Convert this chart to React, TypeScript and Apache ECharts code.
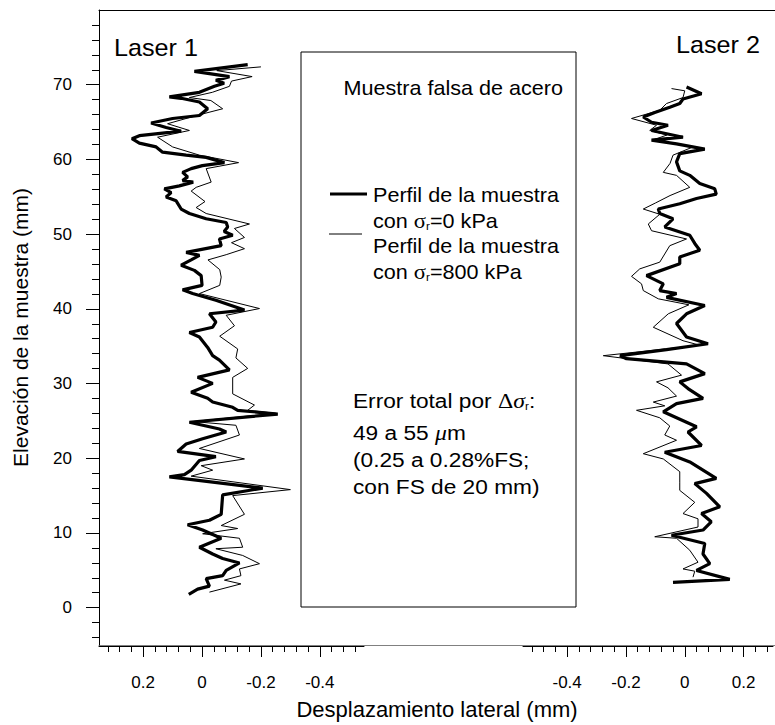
import React, { useEffect, useRef } from "react";
import * as echarts from "echarts";

// Elevation axis (mm)
const yTicks = [0, 10, 20, 30, 40, 50, 60, 70];
const yMinorTicks = [-4, -2, 0, 2, 4, 6, 8, 10, 12, 14, 16, 18, 20, 22, 24, 26, 28, 30, 32, 34, 36, 38, 40, 42, 44, 46, 48, 50, 52, 54, 56, 58, 60, 62, 64, 66, 68, 70, 72, 74, 76, 78];
// Lateral displacement axes (mm)
const xTicksL1 = [0.2, 0, -0.2, -0.4];
const xTicksL2 = [-0.4, -0.2, 0, 0.2];
const xMinorL1 = [0.32, 0.28, 0.24, 0.2, 0.16, 0.12, 0.08, 0.04, 0, -0.04, -0.08, -0.12, -0.16, -0.2, -0.24, -0.28, -0.32, -0.36, -0.4, -0.44, -0.48, -0.52];
const xMinorL2 = [-0.52, -0.48, -0.44, -0.4, -0.36, -0.32, -0.28, -0.24, -0.2, -0.16, -0.12, -0.08, -0.04, 0, 0.04, 0.08, 0.12, 0.16, 0.2, 0.24, 0.28];

// [displacement, elevation]
const laser1Sigma0 = [[-0.155,72.7],[0.026,71.8],[-0.093,71.1],[-0.047,70.6],[-0.075,70.2],[-0.042,69.8],[0.009,69.0],[0.111,68.4],[0.071,68.2],[0.009,67.7],[-0.019,66.8],[0.009,65.9],[0.1,65.5],[0.173,64.9],[0.122,64.3],[0.071,63.8],[0.213,63.2],[0.238,62.8],[0.213,62.2],[0.156,61.7],[0.134,61.0],[0.054,60.6],[-0.014,60.3],[-0.076,59.6],[-0.001,59.2],[0.037,58.8],[0.066,58.3],[0.049,57.7],[0.066,57.2],[0.03,57.0],[0.077,56.5],[0.128,56.1],[0.105,55.6],[0.122,55.0],[0.088,54.5],[0.071,53.4],[0.043,52.8],[-0.014,52.1],[-0.082,51.6],[-0.087,51.0],[-0.075,50.4],[-0.104,49.9],[-0.059,49.4],[-0.065,48.5],[0.054,47.6],[0.009,47.2],[0.037,46.6],[0.071,45.9],[0.026,45.2],[0.003,44.5],[0.0,43.2],[0.066,42.6],[0.032,42.1],[-0.047,41.2],[-0.144,39.9],[-0.025,39.4],[-0.047,38.3],[-0.036,37.6],[0.043,36.9],[0.009,36.3],[-0.019,34.9],[-0.036,33.8],[-0.059,33.2],[-0.093,31.9],[0.015,30.9],[-0.036,30.1],[0.037,28.9],[-0.019,28.1],[-0.036,27.6],[-0.104,26.9],[-0.121,26.5],[-0.257,26.0],[0.043,24.9],[-0.059,24.0],[-0.082,23.6],[-0.002,22.7],[0.054,22.0],[0.083,21.0],[-0.047,20.3],[0.009,19.8],[0.037,18.5],[0.06,17.9],[0.111,17.6],[-0.206,16.1],[-0.07,15.2],[-0.065,12.6],[-0.025,11.8],[0.049,11.2],[-0.002,10.5],[-0.065,9.4],[0.009,8.2],[-0.036,7.3],[-0.07,6.7],[-0.127,6.1],[-0.082,5.1],[-0.07,4.4],[-0.014,4.0],[-0.025,3.0],[0.015,2.6],[0.045,1.9]];
const laser1Sigma800 = [[-0.2,72.4],[-0.05,71.9],[-0.17,71.1],[-0.1,70.5],[-0.093,69.8],[-0.035,69.0],[0.043,68.3],[-0.03,67.9],[-0.07,66.8],[0.009,66.0],[0.117,64.8],[0.043,63.9],[0.151,63.0],[0.1,61.7],[0.009,60.6],[-0.124,59.6],[-0.014,58.8],[-0.031,57.0],[0.02,56.3],[0.037,55.8],[-0.01,54.4],[0.02,53.6],[-0.014,52.8],[-0.161,51.4],[-0.11,50.8],[-0.144,49.6],[-0.1,48.9],[-0.144,48.1],[-0.082,47.3],[-0.02,46.6],[-0.06,45.3],[-0.065,44.3],[-0.06,43.2],[0.009,42.1],[-0.195,40.1],[-0.082,39.2],[-0.11,37.8],[-0.06,36.4],[-0.121,34.7],[-0.115,33.5],[-0.155,32.1],[-0.104,30.9],[-0.104,28.7],[-0.178,27.2],[-0.155,26.5],[-0.25,26.1],[0.03,25.0],[-0.115,24.5],[-0.127,23.2],[0.009,21.4],[-0.144,20.0],[0.003,19.1],[-0.036,18.5],[0.037,17.7],[-0.3,15.9],[-0.104,15.1],[-0.144,12.6],[-0.065,11.1],[-0.121,10.7],[-0.002,10.0],[-0.127,9.4],[-0.138,8.2],[-0.047,8.0],[-0.138,7.1],[-0.195,6.0],[-0.127,5.3],[-0.132,4.4],[-0.076,3.8],[-0.132,3.3],[-0.025,2.2]];
const laser2Sigma0 = [[0.006,69.7],[0.057,68.8],[-0.006,68.1],[-0.017,67.5],[-0.051,67.0],[-0.102,66.3],[-0.141,65.7],[-0.113,65.0],[-0.057,64.6],[-0.113,63.9],[-0.006,63.0],[-0.113,62.6],[-0.028,62.1],[0.068,61.4],[-0.017,60.8],[-0.028,59.7],[-0.017,58.5],[0.017,57.9],[0.051,56.8],[0.102,56.1],[0.107,55.4],[0.04,54.8],[-0.017,54.1],[-0.09,53.4],[-0.085,52.8],[-0.04,52.1],[-0.068,51.0],[0.017,49.9],[0.034,48.8],[0.051,47.9],[-0.017,47.0],[-0.017,46.1],[-0.13,44.5],[-0.073,43.4],[-0.085,42.5],[-0.028,42.1],[-0.062,41.6],[0.068,40.5],[0.006,39.4],[-0.028,38.1],[0.006,36.3],[0.079,35.4],[-0.062,34.6],[-0.22,33.8],[-0.198,33.4],[0.006,32.7],[0.068,31.4],[-0.017,30.3],[0.011,29.4],[0.062,28.1],[-0.028,27.4],[-0.073,26.3],[0.006,24.9],[0.04,24.3],[0.011,23.6],[0.057,21.8],[-0.068,20.9],[0.017,19.6],[0.107,17.4],[0.034,16.7],[0.074,15.4],[0.119,13.6],[0.057,12.7],[0.09,11.6],[0.062,10.5],[-0.045,9.8],[0.068,8.7],[0.062,7.3],[0.085,6.0],[0.04,5.1],[0.153,3.9],[-0.04,3.5]];
const laser2Sigma800 = [[-0.045,69.5],[0.0,69.2],[-0.006,68.3],[-0.062,67.5],[-0.085,66.6],[-0.181,65.5],[-0.096,64.6],[-0.119,63.9],[-0.06,63.3],[-0.11,62.6],[0.028,61.7],[-0.04,60.6],[-0.05,59.5],[-0.073,58.3],[-0.028,57.9],[0.017,56.3],[-0.05,55.2],[-0.1,54.2],[-0.141,53.4],[-0.085,52.7],[-0.124,51.4],[-0.113,50.5],[0.006,49.4],[-0.051,48.5],[-0.085,46.3],[-0.153,45.4],[-0.181,44.4],[-0.147,43.4],[-0.141,42.5],[-0.09,41.4],[0.014,40.6],[-0.056,39.4],[-0.107,37.6],[-0.006,35.8],[0.051,35.2],[-0.277,33.8],[-0.057,32.7],[-0.011,31.2],[-0.096,30.3],[-0.057,29.5],[-0.028,28.4],[-0.107,27.6],[-0.068,27.1],[-0.164,26.5],[-0.085,25.5],[-0.051,24.4],[-0.068,23.2],[-0.028,22.5],[-0.141,20.7],[-0.073,20.0],[-0.017,18.3],[-0.017,16.9],[-0.017,15.8],[0.034,14.2],[-0.006,12.7],[0.045,12.0],[0.045,10.9],[-0.102,9.6],[-0.028,9.4],[0.017,7.8],[0.045,6.2],[-0.006,5.3],[0.034,5.0],[0.028,4.2]];

const FONT = "'Liberation Sans', Arial, Helvetica, sans-serif";
const SERIF = "'Liberation Serif', 'Times New Roman', serif";

const Y_MIN = -5, Y_MAX = 80;
const GRID_TOP = 10, GRID_H = 636;
const TICK_FONT = 17;

function hiddenY(gridIndex: number) {
  return { type: "value", gridIndex, min: Y_MIN, max: Y_MAX, show: false, splitLine: { show: false } };
}

function mainX(gridIndex: number, min: number, max: number, inverse: boolean, ticks: number[]) {
  return {
    type: "value", gridIndex, min, max, inverse, position: "bottom", z: 3,
    axisLine: { show: true, onZero: false, lineStyle: { color: "#000", width: 1 } },
    axisTick: { show: true, inside: false, length: 11, customValues: ticks, lineStyle: { color: "#000" } },
    axisLabel: { show: true, customValues: ticks, margin: 28, color: "#000", fontSize: TICK_FONT, fontFamily: FONT },
    splitLine: { show: false },
  };
}
function minorX(gridIndex: number, min: number, max: number, inverse: boolean, ticks: number[]) {
  return {
    type: "value", gridIndex, min, max, inverse, position: "bottom", z: 3,
    axisLine: { show: false, onZero: false },
    axisTick: { show: true, inside: false, length: 6, customValues: ticks, lineStyle: { color: "#000" } },
    axisLabel: { show: false },
    splitLine: { show: false },
  };
}

const legendRich = {
  s: { fontFamily: SERIF, fontSize: 21, lineHeight: 22, color: "#000" },
  r: { fontFamily: FONT, fontSize: 11, lineHeight: 11, verticalAlign: "bottom", color: "#000" },
};

export default function App() {
  const ref = useRef<HTMLDivElement>(null);
  useEffect(() => {
    if (!ref.current) return;
    const chart = echarts.init(ref.current, undefined, { renderer: "svg" });
    const txt = (x: number, y: number, text: string, size: number, align = "left", rich?: any, sx = 1.08) => ({
      type: "text", x, y, z: 10, scaleX: sx,
      style: { text, fontSize: size, fontFamily: FONT, fill: "#000", align, verticalAlign: "middle", lineHeight: 22, rich },
    });
    const option: any = {
      animation: false,
      backgroundColor: "#fff",
      grid: [
        { left: 99, top: GRID_TOP, width: 265, height: GRID_H },
        { left: 523, top: GRID_TOP, width: 250, height: GRID_H },
        { left: 99, top: GRID_TOP, width: 676, height: GRID_H },
      ],
      xAxis: [
        mainX(0, -0.55, 0.35, true, xTicksL1),
        mainX(1, -0.55, 0.3, false, xTicksL2),
        minorX(0, -0.55, 0.35, true, xMinorL1),
        minorX(1, -0.55, 0.3, false, xMinorL2),
        {
          type: "value", gridIndex: 2, min: 0, max: 1, position: "bottom", z: 1,
          axisLine: { show: true, onZero: false, lineStyle: { color: "#808080", width: 1 } },
          axisTick: { show: false }, axisLabel: { show: false }, splitLine: { show: false },
          name: "Desplazamiento lateral (mm)", nameLocation: "middle", nameGap: 53,
          nameTextStyle: { fontSize: 22, fontFamily: FONT, color: "#000" },
        },
        {
          type: "value", gridIndex: 2, min: 0, max: 1, position: "top", z: 1,
          axisLine: { show: true, onZero: false, lineStyle: { color: "#000", width: 1 } },
          axisTick: { show: false }, axisLabel: { show: false }, splitLine: { show: false },
        },
      ],
      yAxis: [
        hiddenY(0),
        hiddenY(1),
        {
          type: "value", gridIndex: 2, min: Y_MIN, max: Y_MAX, position: "left", z: 3,
          axisLine: { show: true, onZero: false, lineStyle: { color: "#000", width: 1 } },
          axisTick: { show: true, length: 13, customValues: yTicks, lineStyle: { color: "#000" } },
          axisLabel: { show: true, customValues: yTicks, margin: 27, color: "#000", fontSize: TICK_FONT, fontFamily: FONT },
          splitLine: { show: false },
          name: "Elevación de la muestra (mm)", nameLocation: "middle", nameGap: 68,
          nameTextStyle: { fontSize: 21, fontFamily: FONT, color: "#000" },
        },
        {
          type: "value", gridIndex: 2, min: Y_MIN, max: Y_MAX, position: "left", z: 3,
          axisLine: { show: false, onZero: false },
          axisTick: { show: true, length: 7, customValues: yMinorTicks, lineStyle: { color: "#000" } },
          axisLabel: { show: false }, splitLine: { show: false },
        },
      ],
      series: [
        { name: "Laser 1, σr=0 kPa", type: "line", xAxisIndex: 0, yAxisIndex: 0, data: laser1Sigma0, symbol: "none", lineStyle: { color: "#000", width: 3.2 }, z: 2 },
        { name: "Laser 1, σr=800 kPa", type: "line", xAxisIndex: 0, yAxisIndex: 0, data: laser1Sigma800, symbol: "none", lineStyle: { color: "#000", width: 1 }, z: 2 },
        { name: "Laser 2, σr=0 kPa", type: "line", xAxisIndex: 1, yAxisIndex: 1, data: laser2Sigma0, symbol: "none", lineStyle: { color: "#000", width: 3.2 }, z: 2 },
        { name: "Laser 2, σr=800 kPa", type: "line", xAxisIndex: 1, yAxisIndex: 1, data: laser2Sigma800, symbol: "none", lineStyle: { color: "#000", width: 1 }, z: 2 },
      ],
      graphic: [
        { type: "rect", z: 10, shape: { x: 301, y: 52, width: 275, height: 555 }, style: { fill: "none", stroke: "#000", lineWidth: 1 } },
        txt(114, 48, "Laser 1", 24, "left", undefined, 1.05),
        txt(676, 45, "Laser 2", 24, "left", undefined, 1.05),
        txt(563, 88, "Muestra falsa de acero", 20, "right"),
        { type: "line", z: 10, shape: { x1: 330, y1: 194, x2: 367, y2: 194 }, style: { stroke: "#000", lineWidth: 3.2 } },
        txt(373, 195, "Perfil de la muestra", 20),
        txt(373, 221, "con {s|σ}{r|r}=0 kPa", 20, "left", legendRich),
        { type: "line", z: 10, shape: { x1: 329, y1: 234, x2: 362, y2: 234 }, style: { stroke: "#000", lineWidth: 1 } },
        txt(373, 246, "Perfil de la muestra", 20),
        txt(373, 272, "con {s|σ}{r|r}=800 kPa", 20, "left", legendRich),
        txt(353, 401, "Error total por {d|Δ}{i|σ}{r|r}:", 21, "left", {
          d: { fontFamily: SERIF, fontSize: 22, lineHeight: 22, color: "#000" },
          i: { fontFamily: SERIF, fontStyle: "italic", fontSize: 22, lineHeight: 22, color: "#000" },
          r: { fontFamily: FONT, fontSize: 11, lineHeight: 11, verticalAlign: "bottom", color: "#000" },
        }),
        txt(353, 433, "49 a 55 {i|μ}m", 21, "left", {
          i: { fontFamily: SERIF, fontStyle: "italic", fontSize: 22, lineHeight: 22, color: "#000" },
        }),
        txt(353, 460, "(0.25 a 0.28%FS;", 21),
        txt(353, 487, "con FS de 20 mm)", 21),
      ],
    };
    chart.setOption(option);
    return () => chart.dispose();
  }, []);
  return <div ref={ref} style={{ position: "absolute", left: 0, top: 0, width: 775, height: 725 }} />;
}
